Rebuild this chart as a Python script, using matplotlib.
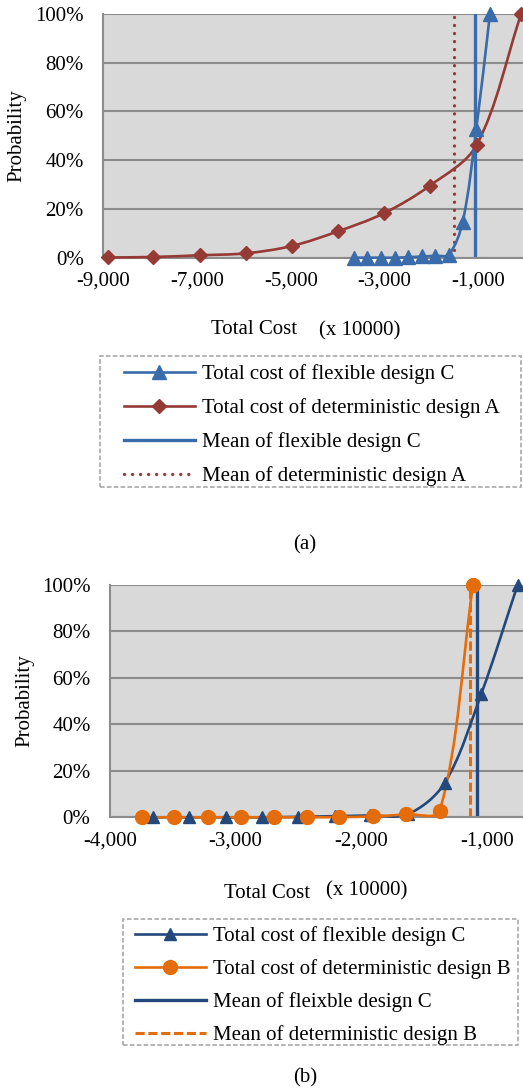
import numpy as np
import matplotlib
matplotlib.use("Agg")
import matplotlib.pyplot as plt
from matplotlib.path import Path
from matplotlib.patches import PathPatch, Rectangle
from matplotlib.lines import Line2D
from matplotlib.ticker import FuncFormatter

plt.rcParams['font.family'] = ['Liberation Serif', 'DejaVu Serif']

# --- data (total cost in x 10000, cumulative probability in %) ---
flex_c_x = [-3660, -3370, -3075, -2790, -2500, -2205, -1930, -1630, -1335, -1045, -755]
flex_c_y = [0.0, 0.0, 0.0, 0.0, 0.2, 0.5, 0.8, 1.3, 14.8, 53.0, 100.0]

det_a_x = [-8890, -7930, -6940, -5960, -4980, -4000, -3020, -2040, -1040, -90]
det_a_y = [0.1, 0.3, 1.0, 1.8, 4.8, 10.8, 18.2, 29.5, 46.2, 100.0]

det_b_x = [-3745, -3490, -3220, -2955, -2695, -2430, -2175, -1905, -1640, -1375, -1110]
det_b_y = [0.0, 0.0, 0.0, 0.0, 0.0, 0.0, 0.1, 0.4, 1.3, 2.8, 100.0]

mean_c = -1075
mean_a = -1515
mean_b = -1135

xticks_a = [-9000, -7000, -5000, -3000, -1000]
xticks_b = [-4000, -3000, -2000, -1000]
yticks = [0, 20, 40, 60, 80, 100]

labels_a = ["Total cost of flexible design C", "Total cost of deterministic design A",
            "Mean of flexible design C", "Mean of deterministic design A"]
labels_b = ["Total cost of flexible design C", "Total cost of deterministic design B",
            "Mean of fleixble design C", "Mean of deterministic design B"]

BLUE_A = '#3A6BAA'
RED = '#963A36'
BLUE_B = '#23487C'
ORANGE = '#E46C0A'
GRID = '#8C8C8C'
BG = '#D9D9D9'
FS = 15

W, H = 523, 1089


def smooth_line(ax, xs, ys, color, lw=1.9):
    # excel-like smoothed line, control points weighted by segment length on screen
    pts = ax.transData.transform(np.column_stack([xs, ys]).astype(float))
    n = len(pts)
    verts = [pts[0]]
    codes = [Path.MOVETO]
    for i in range(n - 1):
        p0 = pts[i - 1] if i > 0 else pts[i]
        p1 = pts[i]
        p2 = pts[i + 1]
        p3 = pts[i + 2] if i + 2 < n else pts[i + 1]
        d01 = np.hypot(*(p1 - p0))
        d12 = np.hypot(*(p2 - p1))
        d23 = np.hypot(*(p3 - p2))
        f1 = d12 / (d01 + d12) if d01 + d12 > 0 else 0
        f2 = d12 / (d12 + d23) if d12 + d23 > 0 else 0
        c1 = p1 + (p2 - p0) * f1 / 3
        c2 = p2 - (p3 - p1) * f2 / 3
        verts += [c1, c2, p2]
        codes += [Path.CURVE4] * 3
    verts = ax.transData.inverted().transform(np.array(verts))
    patch = PathPatch(Path(verts, codes), facecolor='none', edgecolor=color,
                      lw=lw, clip_on=False, zorder=3)
    ax.add_patch(patch)


def style_axes(ax, xlim, xticks):
    ax.set_facecolor(BG)
    ax.set_xlim(*xlim)
    ax.set_ylim(0, 100)
    ax.set_xticks(xticks)
    ax.set_yticks(yticks)
    ax.xaxis.set_major_formatter(FuncFormatter(lambda v, p: "{:,.0f}".format(v)))
    ax.yaxis.set_major_formatter(FuncFormatter(lambda v, p: "{:.0f}%".format(v)))
    ax.tick_params(axis='x', length=0, pad=10, labelsize=FS)
    ax.tick_params(axis='y', length=0, pad=14, labelsize=FS)
    ax.grid(axis='y', color=GRID, lw=1.5)
    ax.set_axisbelow(True)
    for side in ['top', 'right']:
        ax.spines[side].set_visible(False)
    for side in ['left', 'bottom']:
        ax.spines[side].set_color(GRID)
        ax.spines[side].set_linewidth(1.5)


def px_box(x0, y0, x1, y1):
    return [x0 / W, 1 - y1 / H, (x1 - x0) / W, (y1 - y0) / H]


def legend_frame(fig, x0, y0, x1, y1):
    fig.patches.append(Rectangle((x0 / W, 1 - y1 / H), (x1 - x0) / W, (y1 - y0) / H,
                                 transform=fig.transFigure, fill=False,
                                 edgecolor='#A0A0A0', lw=1.1, linestyle=(0, (3, 1.5))))


fig = plt.figure(figsize=(W / 100, H / 100), dpi=100)

# ---------------- (a) ----------------
ax_a = fig.add_axes(px_box(103.3, 14, 523, 257.7))
style_axes(ax_a, (-9000, -50), xticks_a)
ax_a.axvline(mean_a, color=RED, lw=2.4, linestyle=(0, (0.01, 2.4)),
             dash_capstyle='round', zorder=2)
ax_a.axvline(mean_c, color=BLUE_A, lw=2.4, zorder=2)
smooth_line(ax_a, det_a_x, det_a_y, RED)
ax_a.plot(det_a_x, det_a_y, linestyle='none', marker='D', ms=7, color=RED,
          clip_on=False, zorder=4)
smooth_line(ax_a, flex_c_x, flex_c_y, BLUE_A)
ax_a.plot(flex_c_x, flex_c_y, linestyle='none', marker='^', ms=10, color=BLUE_A,
          clip_on=False, zorder=5)

fig.text(16.7 / W, 1 - 136 / H, "Probability", rotation=90, fontsize=FS,
         ha='center', va='center')
fig.text(254 / W, 1 - 333.5 / H, "Total Cost", fontsize=FS, ha='center', va='baseline')
fig.text(360 / W, 1 - 335.5 / H, "(x 10000)", fontsize=FS, ha='center', va='baseline')

handles_a = [
    Line2D([], [], color=BLUE_A, lw=1.9, marker='^', ms=10),
    Line2D([], [], color=RED, lw=1.9, marker='D', ms=7),
    Line2D([], [], color=BLUE_A, lw=2.4),
    Line2D([], [], color=RED, lw=2.4, linestyle=(0, (0.01, 2.4)), dash_capstyle='round'),
]
legend_frame(fig, 100, 355.7, 521, 487.3)
fig.legend(handles_a, labels_a, loc='upper left', bbox_to_anchor=(124 / W, 1 - 364.5 / H),
           frameon=False, borderpad=0, borderaxespad=0, fontsize=FS, handlelength=3.4,
           handletextpad=0.35, labelspacing=0.67)

fig.text(305 / W, 1 - 545 / H, "(a)", fontsize=FS, ha='center', va='center')

# ---------------- (b) ----------------
ax_b = fig.add_axes(px_box(110, 585, 523, 817.3))
style_axes(ax_b, (-4000, -712), xticks_b)
ax_b.axvline(mean_b, color=ORANGE, lw=2.2, linestyle=(0, (3, 1.2)), zorder=2)
ax_b.axvline(mean_c, color=BLUE_B, lw=2.4, zorder=2)
smooth_line(ax_b, flex_c_x, flex_c_y, BLUE_B)
ax_b.plot(flex_c_x, flex_c_y, linestyle='none', marker='^', ms=9, color=BLUE_B,
          clip_on=False, zorder=4)
smooth_line(ax_b, det_b_x, det_b_y, ORANGE)
ax_b.plot(det_b_x, det_b_y, linestyle='none', marker='o', ms=10, color=ORANGE,
          clip_on=False, zorder=5)

fig.text(25 / W, 1 - 700.8 / H, "Probability", rotation=90, fontsize=FS,
         ha='center', va='center')
fig.text(267.5 / W, 1 - 898 / H, "Total Cost", fontsize=FS, ha='center', va='baseline')
fig.text(367 / W, 1 - 895 / H, "(x 10000)", fontsize=FS, ha='center', va='baseline')

handles_b = [
    Line2D([], [], color=BLUE_B, lw=1.9, marker='^', ms=9),
    Line2D([], [], color=ORANGE, lw=1.9, marker='o', ms=10),
    Line2D([], [], color=BLUE_B, lw=2.4),
    Line2D([], [], color=ORANGE, lw=2.2, linestyle=(0, (3, 1.2))),
]
legend_frame(fig, 123, 919.3, 518, 1045)
fig.legend(handles_b, labels_b, loc='upper left', bbox_to_anchor=(135 / W, 1 - 926.5 / H),
           frameon=False, borderpad=0, borderaxespad=0, fontsize=FS, handlelength=3.4,
           handletextpad=0.35, labelspacing=0.62)

fig.text(305 / W, 1 - 1078 / H, "(b)", fontsize=FS, ha='center', va='center')

fig.savefig("out.png", dpi=100)
